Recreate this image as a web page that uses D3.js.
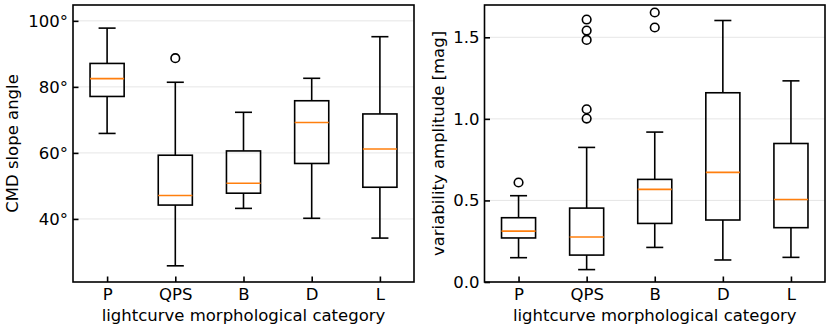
<!DOCTYPE html>
<html>
<head>
<meta charset="utf-8">
<script src="https://cdn.jsdelivr.net/npm/d3@7"></script>
<style>
  body { margin: 0; background: #fff; }
  svg { display: block; }
  text { font-family: "DejaVu Sans", sans-serif; fill: #000; }
</style>
</head>
<body>
<script>
// categories
var categories = ['P', 'QPS', 'B', 'D', 'L'];

// left panel: CMD slope angle (degrees)
var slopeLow    = [65.9, 25.8, 43.2, 40.2, 34.2];
var slopeQ1     = [77.1, 44.2, 47.8, 56.8, 49.6];
var slopeMedian = [82.5, 47.1, 50.8, 69.2, 61.2];
var slopeQ3     = [87.1, 59.3, 60.6, 75.8, 71.8];
var slopeHigh   = [97.8, 81.4, 72.3, 82.6, 95.2];
var slopeFliers = [[], [88.7], [], [], []];
var slopeTicks  = [40, 60, 80, 100];

// right panel: variability amplitude (mag)
var ampLow    = [0.149, 0.076, 0.212, 0.135, 0.151];
var ampQ1     = [0.270, 0.165, 0.359, 0.380, 0.333];
var ampMedian = [0.312, 0.276, 0.568, 0.672, 0.506];
var ampQ3     = [0.394, 0.453, 0.629, 1.160, 0.849];
var ampHigh   = [0.529, 0.825, 0.919, 1.603, 1.233];
var ampFliers = [[0.61], [1.609, 1.541, 1.484, 1.059, 1.002], [1.652, 1.560], [], []];
var ampTicks  = [0.0, 0.5, 1.0, 1.5];

var W = 830, H = 332;
var fs = 16.5;
var lw = 1.6;

var svg = d3.select('body').append('svg')
    .attr('width', W)
    .attr('height', H);

function boxPanel(opt) {
    var x = d3.scaleLinear().domain([0.5, 5.5]).range([opt.left, opt.right]);
    var y = d3.scaleLinear().domain(opt.domain).range([opt.bottom, opt.top]);
    var g = svg.append('g');

    // grid
    g.selectAll('.grid')
        .data(opt.ticks)
        .enter()
        .append('line')
        .attr('x1', opt.left).attr('x2', opt.right)
        .attr('y1', d => y(d)).attr('y2', d => y(d))
        .attr('stroke', '#e6e6e6')
        .attr('stroke-width', 1);

    var stats = categories.map((c, i) => ({
        c: c, i: i + 1,
        lo: opt.low[i], q1: opt.q1[i], med: opt.med[i], q3: opt.q3[i], hi: opt.high[i],
        fl: opt.fliers[i]
    }));
    var bw = x(1.25) - x(1); // half box width
    var cw = bw / 2;         // half cap width

    var boxes = g.selectAll('.box').data(stats).enter().append('g');
    // whiskers
    boxes.append('line')
        .attr('x1', d => x(d.i)).attr('x2', d => x(d.i))
        .attr('y1', d => y(d.lo)).attr('y2', d => y(d.q1))
        .attr('stroke', '#000').attr('stroke-width', lw);
    boxes.append('line')
        .attr('x1', d => x(d.i)).attr('x2', d => x(d.i))
        .attr('y1', d => y(d.q3)).attr('y2', d => y(d.hi))
        .attr('stroke', '#000').attr('stroke-width', lw);
    // caps
    boxes.append('line')
        .attr('x1', d => x(d.i) - cw).attr('x2', d => x(d.i) + cw)
        .attr('y1', d => y(d.lo)).attr('y2', d => y(d.lo))
        .attr('stroke', '#000').attr('stroke-width', lw);
    boxes.append('line')
        .attr('x1', d => x(d.i) - cw).attr('x2', d => x(d.i) + cw)
        .attr('y1', d => y(d.hi)).attr('y2', d => y(d.hi))
        .attr('stroke', '#000').attr('stroke-width', lw);
    // box
    boxes.append('rect')
        .attr('x', d => x(d.i) - bw)
        .attr('y', d => y(d.q3))
        .attr('width', 2 * bw)
        .attr('height', d => y(d.q1) - y(d.q3))
        .attr('fill', 'none')
        .attr('stroke', '#000').attr('stroke-width', lw);
    // median
    boxes.append('line')
        .attr('x1', d => x(d.i) - bw).attr('x2', d => x(d.i) + bw)
        .attr('y1', d => y(d.med)).attr('y2', d => y(d.med))
        .attr('stroke', '#ff7f0e').attr('stroke-width', lw);
    // fliers
    boxes.selectAll('circle')
        .data(d => d.fl.map(v => ({ i: d.i, v: v })))
        .enter()
        .append('circle')
        .attr('cx', d => x(d.i))
        .attr('cy', d => y(d.v))
        .attr('r', 4.3)
        .attr('fill', 'none')
        .attr('stroke', '#000').attr('stroke-width', lw);

    // axes (ticks inward)
    var yAxis = d3.axisLeft(y).tickValues(opt.ticks).tickFormat(opt.fmt)
        .tickSizeInner(-5.5).tickSizeOuter(0).tickPadding(5);
    var ga = svg.append('g').attr('transform', 'translate(' + opt.left + ',0)').call(yAxis);
    ga.select('.domain').remove();
    ga.selectAll('line').attr('stroke-width', lw);
    ga.selectAll('text').attr('font-size', fs).style('font-family', '"DejaVu Sans", sans-serif');

    var xAxis = d3.axisBottom(x).tickValues([1, 2, 3, 4, 5]).tickFormat(d => categories[d - 1])
        .tickSizeInner(-5.5).tickSizeOuter(0).tickPadding(6);
    var gx = svg.append('g').attr('transform', 'translate(0,' + opt.bottom + ')').call(xAxis);
    gx.select('.domain').remove();
    gx.selectAll('line').attr('stroke-width', lw);
    gx.selectAll('text').attr('font-size', fs).style('font-family', '"DejaVu Sans", sans-serif');

    // frame
    svg.append('rect')
        .attr('x', opt.left).attr('y', opt.top)
        .attr('width', opt.right - opt.left)
        .attr('height', opt.bottom - opt.top)
        .attr('fill', 'none')
        .attr('stroke', '#000').attr('stroke-width', 1.6);

    // labels
    svg.append('text')
        .attr('x', (opt.left + opt.right) / 2)
        .attr('y', 320.5)
        .attr('text-anchor', 'middle')
        .attr('font-size', fs)
        .text('lightcurve morphological category');
    svg.append('text')
        .attr('transform', 'translate(' + opt.ylabelX + ',' + ((opt.top + opt.bottom) / 2) + ') rotate(-90)')
        .attr('text-anchor', 'middle')
        .attr('font-size', fs)
        .text(opt.ylabel);
}

boxPanel({
    left: 73, right: 414, top: 5, bottom: 282,
    domain: [20.9, 104.8],
    low: slopeLow, q1: slopeQ1, med: slopeMedian, q3: slopeQ3, high: slopeHigh, fliers: slopeFliers,
    ticks: slopeTicks, fmt: d => d + '°',
    ylabel: 'CMD slope angle', ylabelX: 18.3
});

boxPanel({
    left: 484.5, right: 825, top: 5, bottom: 282,
    domain: [0, 1.698],
    low: ampLow, q1: ampQ1, med: ampMedian, q3: ampQ3, high: ampHigh, fliers: ampFliers,
    ticks: ampTicks, fmt: d3.format('.1f'),
    ylabel: 'variability amplitude [mag]', ylabelX: 443.5
});
</script>
</body>
</html>
